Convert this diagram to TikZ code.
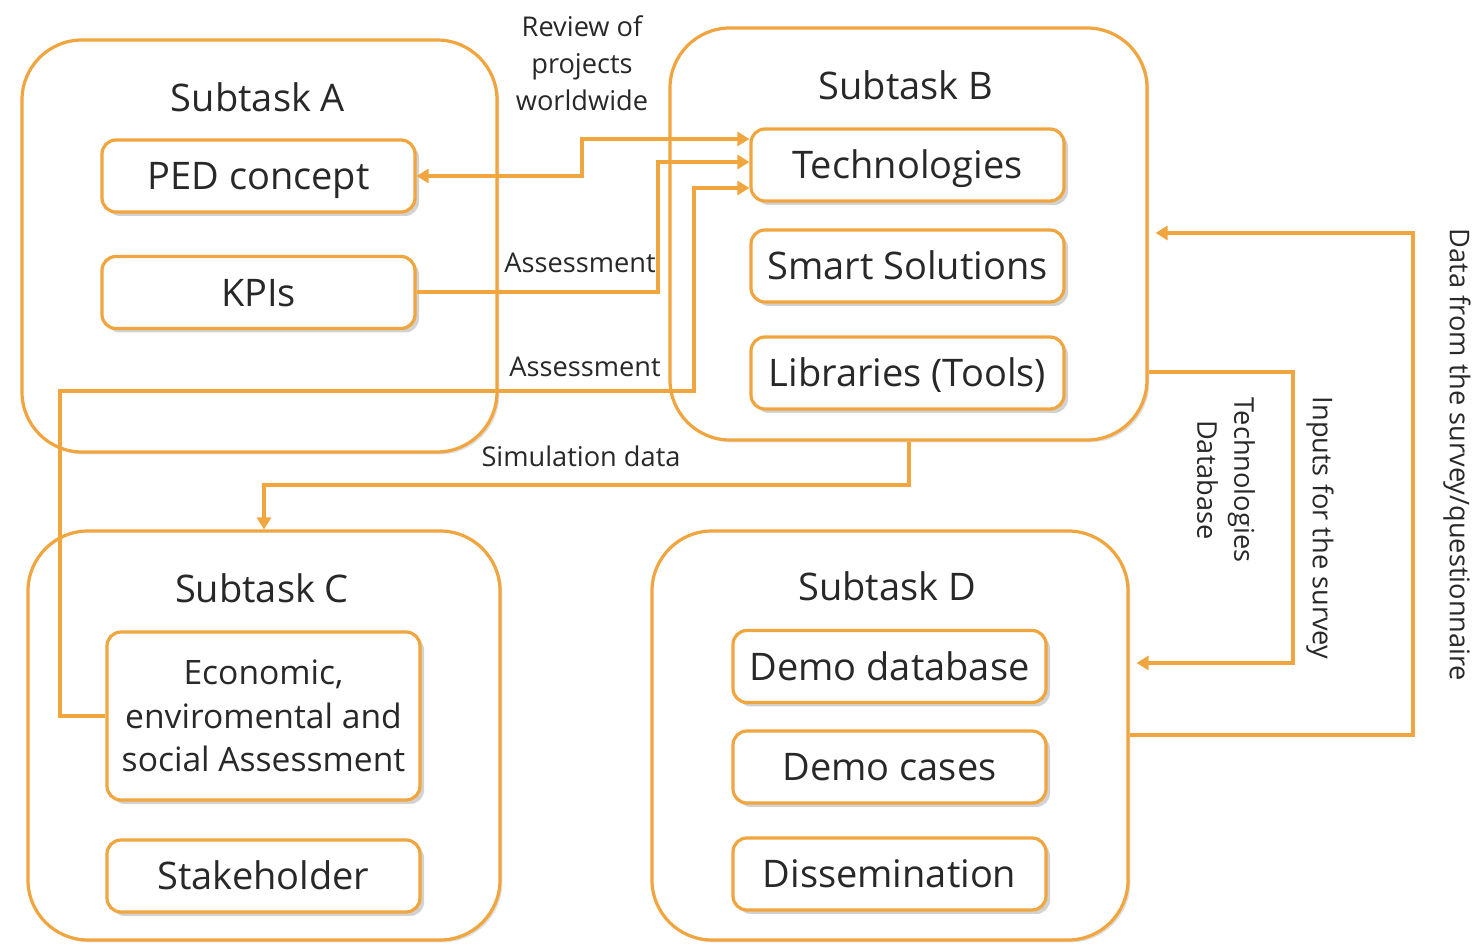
\documentclass[tikz,border=0pt]{standalone}
\usepackage{fontspec}
\setmainfont{Open Sans}
\usetikzlibrary{arrows.meta,shadows,calc}
\definecolor{orng}{RGB}{240,165,62}
\definecolor{txt}{RGB}{40,40,40}
\begin{document}
\begin{tikzpicture}[x=0.5pt,y=-0.5pt,
  outer/.style={draw=orng,line width=1.6pt,rounded corners=30pt,inner sep=0pt,fill=white,
    drop shadow={shadow xshift=1.2pt,shadow yshift=-1.2pt,opacity=0.25}},
  inner/.style={draw=orng,line width=1.6pt,rounded corners=7pt,inner sep=0pt,fill=white,
    minimum width=156.5pt,minimum height=36pt,text=txt,font=\fontsize{19}{22}\selectfont,
    drop shadow={shadow xshift=2pt,shadow yshift=-2pt,opacity=0.35},align=center},
  single/.style={text height=14pt,text depth=0.4pt},
  title/.style={text=txt,font=\fontsize{19}{23}\selectfont},
  lbl/.style={text=txt,font=\fontsize{13.6}{18.5}\selectfont,align=center},
  conn/.style={draw=orng,line width=2pt},
  tip/.style={-{Triangle[length=6pt,width=7pt]}},
]
\useasboundingbox (0,0) rectangle (1473,945);
\fill[white] (0,0) rectangle (1473,945);
% outer boxes
\node[outer,minimum width=237.5pt,minimum height=206pt] (A) at (259.5,246) {};
\node[outer,minimum width=238.5pt,minimum height=206pt] (B) at (908.5,234) {};
\node[outer,minimum width=236pt,minimum height=204.5pt] (C) at (264,735.5) {};
\node[outer,minimum width=238pt,minimum height=204.5pt] (D) at (890,735.5) {};
% titles
\node[title] (tA) at (258,97) {Subtask A};
\node[title] (tB) at (906,85) {Subtask B};
\node[title] (tC) at (262,588) {Subtask C};
\node[title] (tD) at (887,586) {Subtask D};
% inner boxes
\node[inner,single] (PED) at (258.5,176) {PED concept};
\node[inner,single] (KPI) at (258.5,292.5) {KPIs};
\node[inner,single] (Tech) at (907.5,165) {Technologies};
\node[inner,single] (Smart) at (907.5,266) {Smart Solutions};
\node[inner,single] (Lib) at (907.5,373) {Libraries (Tools)};
\node[inner,minimum height=84pt,font=\fontsize{16.8}{21.75}\selectfont] (Eco) at (263.5,716) {Economic,\\enviromental and\\social Assessment};
\node[inner,single] (Stake) at (263.5,876) {Stakeholder};
\node[inner,single] (DemoDB) at (889.5,666.5) {Demo database};
\node[inner,single] (DemoC) at (889.5,767) {Demo cases};
\node[inner,single] (Diss) at (889.5,874) {Dissemination};
% connectors
\coordinate (r1) at (582,176);
\draw[conn,{Triangle[length=6pt,width=7pt]}-{Triangle[length=6pt,width=7pt]}] (PED.east) -- (r1) |- ($(Tech.west)+(0,-26)$);
\coordinate (r2) at (658,292.5);
\draw[conn,tip] (KPI.east) -- (r2) |- ($(Tech.west)+(0,-3)$);
\coordinate (c3a) at (60,391);
\coordinate (c3b) at (694,391);
\draw[conn,tip] (Eco.west) -| (c3a) -- (c3b) |- ($(Tech.west)+(0,23)$);
\coordinate (s1) at (908.5,485);
\draw[conn,tip] (B.south) -- (s1) -| (C.north);
\coordinate (t1) at (1293,372);
\draw[conn,tip] ($(B.east)+(0,138)$) -- (t1) |- ($(D.east)+(7,-72.5)$);
\coordinate (q1) at (1413,735.5);
\draw[conn,tip] (D.east) -- (q1) |- ($(B.east)+(7,-1)$);
% labels
\node[lbl] (l1) at (582,63) {Review of\\projects\\worldwide};
\node[lbl] (l2) at (580,263) {Assessment};
\node[lbl] (l3) at (585,367) {Assessment};
\node[lbl] (l4) at (581,456) {Simulation data};
\node[lbl,rotate=-90] (l5) at (1226,480) {Technologies\\Database};
\node[lbl,rotate=-90] (l6) at (1320,528) {Inputs for the survey};
\node[lbl,rotate=-90] (l7) at (1457,455) {Data from the survey/questionnaire};
\end{tikzpicture}
\end{document}
